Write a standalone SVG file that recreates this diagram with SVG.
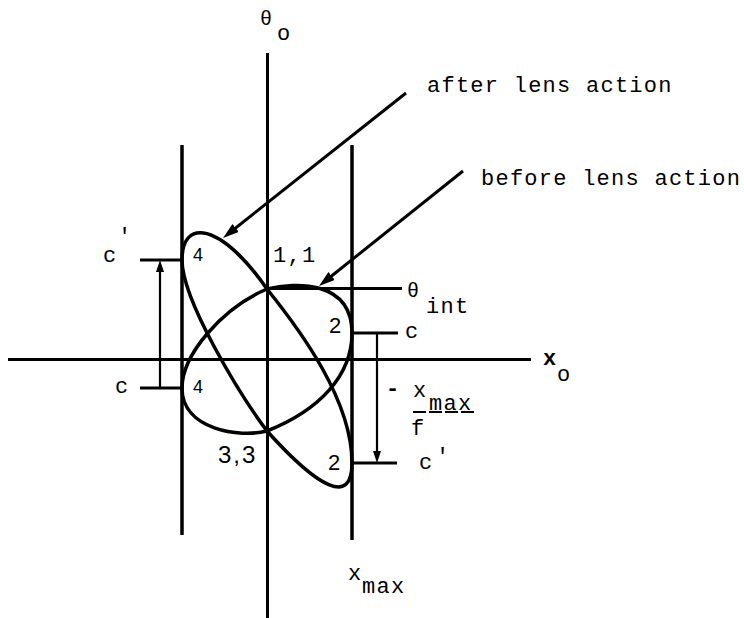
<svg xmlns="http://www.w3.org/2000/svg" width="744" height="618" viewBox="0 0 744 618">
<style>
.ln{stroke:#000;fill:none;stroke-linecap:butt}
.ax{stroke-width:3}
.vl{stroke-width:3.5}
.cv{stroke-width:3.5;stroke-linejoin:round}
.tk{stroke-width:3}
.ar{stroke-width:3}
.dm{stroke-width:2.2}
.t{font-family:"Liberation Mono","Courier New",monospace;font-size:22px;letter-spacing:1.25px;fill:#000}
.h{font-family:"Liberation Sans",Arial,sans-serif;fill:#000}
</style>
<defs>
<marker id="ah" viewBox="0 0 16 10" refX="8" refY="5" markerWidth="16" markerHeight="10" markerUnits="userSpaceOnUse" orient="auto"><path d="M0,0 L16,5 L0,10 Z" fill="#000"/></marker>
<marker id="ad" viewBox="0 0 12 8" refX="6" refY="4" markerWidth="12" markerHeight="8" markerUnits="userSpaceOnUse" orient="auto"><path d="M0,0 L12,4 L0,8 Z" fill="#000"/></marker>
</defs>
<rect width="744" height="618" fill="#fff"/>

<g id="axes">
<line class="ln ax" x1="267.5" y1="53" x2="267.5" y2="618"/>
<line class="ln ax" x1="8" y1="359.5" x2="531" y2="359.5"/>
<line class="ln vl" x1="182" y1="145" x2="182" y2="535"/>
<line class="ln vl" x1="352" y1="145" x2="352" y2="540"/>
</g>

<g id="before-curve">
<path class="ln cv" d="M267,289 C295,282 352,280 352,333 C352,375 320,410 267,431 C240,438 182,430 182,388 C182,355 222,308 267,289 Z"/>
</g>

<g id="after-curve">
<path class="ln cv" d="M267,289 C300,330 352,400 352,463 C352,505 320,490 267,431 C240,395 182,300 182,260 C182,218 220,222 267,289 Z"/>
</g>

<g id="ticks">
<line class="ln tk" x1="267" y1="288.5" x2="402" y2="288.5"/>
<line class="ln tk" x1="352" y1="333" x2="398" y2="333"/>
<line class="ln tk" x1="352" y1="463" x2="397" y2="463"/>
<line class="ln tk" x1="140" y1="260" x2="182" y2="260"/>
<line class="ln tk" x1="140" y1="388" x2="182" y2="388"/>
<line x1="413" y1="412" x2="474" y2="412" stroke="#000" stroke-width="2" stroke-dasharray="13,3"/>
</g>

<g id="connectors">
<line class="ln ar" x1="406" y1="93" x2="229.3" y2="233" marker-end="url(#ah)"/>
<line class="ln ar" x1="463" y1="171" x2="325.3" y2="281" marker-end="url(#ah)"/>
<line class="ln dm" x1="377" y1="333" x2="377" y2="457" marker-end="url(#ad)"/>
<line class="ln dm" x1="160" y1="388" x2="160" y2="266" marker-end="url(#ad)"/>
</g>

<g id="labels">
<text class="t" x="260" y="25" style="font-size:20px">θ<tspan x="277" y="40" style="font-size:22px">o</tspan></text>
<text class="t" x="427" y="92">after lens action</text>
<text class="t" x="481" y="185">before lens action</text>
<text class="t" x="273" y="262">1,1</text>
<text class="h" x="193" y="261" font-size="18">4</text>
<text class="h" x="193" y="393" font-size="18">4</text>
<text class="h" x="329" y="333" font-size="22">2</text>
<text class="h" x="328" y="470" font-size="22">2</text>
<text class="h" x="218" y="463" font-size="24" letter-spacing="2">3,3</text>
<text class="t" x="407" y="297" style="font-size:20px">θ<tspan x="426" y="313" style="font-size:22px">int</tspan></text>
<text class="t" x="405" y="338">c</text>
<text class="t" x="419" y="469">c<tspan x="436" y="463">'</tspan></text>
<text class="t" x="543" y="365" font-weight="bold">x<tspan x="557" y="381" font-weight="normal">o</tspan></text>
<text class="t" x="386" y="395" font-weight="bold">-</text>
<text class="t" x="413" y="397">x<tspan x="429" y="410">max</tspan></text>
<text class="t" x="411" y="435">f</text>
<text class="t" x="348" y="580">x<tspan x="362" y="593">max</tspan></text>
<text class="t" x="103" y="262">c<tspan x="118" y="243">'</tspan></text>
<text class="t" x="115" y="393">c</text>
</g>
</svg>
